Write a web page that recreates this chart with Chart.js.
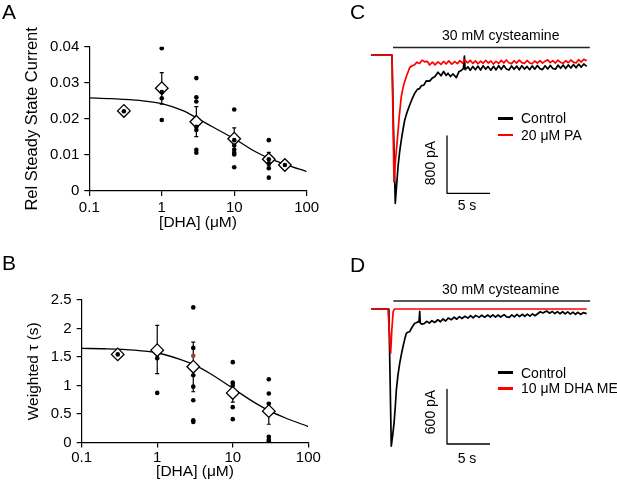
<!DOCTYPE html>
<html>
<head>
<meta charset="utf-8">
<script src="https://cdn.jsdelivr.net/npm/chart.js@4.4.0/dist/chart.umd.min.js"></script>
<style>
  html, body { margin: 0; padding: 0; background: #fff; }
  #fig { position: relative; width: 617px; height: 485px; overflow: hidden;
         font-family: "Liberation Sans", Arial, sans-serif; color: #000; }
  canvas { position: absolute; }
  .t { position: absolute; white-space: nowrap; line-height: 1; }
  .c { transform: translate(-50%, -50%); }
  .r { transform: translate(-50%, -50%) rotate(-90deg); }
  .l { transform: translateY(-50%); }
  .letter { font-size: 21px; }
  .sw { position: absolute; width: 15px; height: 2.6px; }
</style>
</head>
<body>
<div id="fig">
  <canvas id="cA" width="330" height="240" style="left:0;top:0"></canvas>
  <canvas id="cB" width="330" height="245" style="left:0;top:240px"></canvas>
  <canvas id="cC" width="277" height="230" style="left:340px;top:0"></canvas>
  <canvas id="cD" width="277" height="245" style="left:340px;top:240px"></canvas>

  <div class="t letter" style="left:2px;top:0.5px">A</div>
  <div class="t letter" style="left:2px;top:252px">B</div>
  <div class="t letter" style="left:350px;top:0.5px">C</div>
  <div class="t letter" style="left:350px;top:254px">D</div>

  <div class="t c" style="left:500.7px;top:35.3px;font-size:14px">30 mM cysteamine</div>
  <div class="sw" style="left:498px;top:117px;background:#000"></div>
  <div class="t l" style="left:521px;top:118.3px;font-size:14px">Control</div>
  <div class="sw" style="left:498px;top:133.7px;background:#f00"></div>
  <div class="t l" style="left:521px;top:135px;font-size:14px">20 μM PA</div>
  <div class="t r" style="left:430px;top:163.3px;font-size:14px">800 pA</div>
  <div class="t c" style="left:467px;top:205px;font-size:14px">5 s</div>

  <div class="t c" style="left:500.7px;top:289.3px;font-size:14px">30 mM cysteamine</div>
  <div class="sw" style="left:498px;top:371.4px;background:#000"></div>
  <div class="t l" style="left:521px;top:372.7px;font-size:14px">Control</div>
  <div class="sw" style="left:498px;top:387px;background:#f00"></div>
  <div class="t l" style="left:521px;top:388.3px;font-size:14px">10 μM DHA ME</div>
  <div class="t r" style="left:430px;top:411.7px;font-size:14px">600 pA</div>
  <div class="t c" style="left:467px;top:458.3px;font-size:14px">5 s</div>
</div>
<script>
// ---- panel A: steady state current vs [DHA] ----
const decadeTicks = [0.1, 1, 10, 100];
const meanDoseA = [0.3, 1, 3, 10, 30, 50];
const meanA = [0.0222, 0.0285, 0.0192, 0.0145, 0.0088, 0.0072];
const errLoA = [null, 0.0241, 0.0151, 0.0116, 0.0070, null];
const errHiA = [null, 0.0328, 0.0234, 0.0175, 0.0107, null];
const cellDoseA = [0.3, 1, 1, 1, 1, 3, 3, 3, 3, 3, 3, 3, 10, 10, 10, 10, 10, 10, 10, 30, 30, 30, 30, 30, 50];
const cellA = [0.0221, 0.0396, 0.0274, 0.0257, 0.0197, 0.0313, 0.0260, 0.0248, 0.0178, 0.0169, 0.0114, 0.0106,
               0.0226, 0.0141, 0.0126, 0.0114, 0.0106, 0.0101, 0.0066, 0.0141, 0.0088, 0.0077, 0.0063, 0.0037, 0.0072];
const fitDoseA = [0.1, 0.2, 0.5, 1, 2, 3, 5, 10, 20, 30, 50, 100];
const fitA = [0.0258, 0.0256, 0.0251, 0.0242, 0.0222, 0.0203, 0.0178, 0.0145, 0.0108, 0.0091, 0.0074, 0.0054];

// ---- panel B: weighted tau vs [DHA] ----
const meanDoseB = [0.3, 1, 3, 10, 30];
const meanB = [1.546, 1.62, 1.33, 0.87, 0.55];
const errLoB = [null, 1.21, 0.89, 0.71, 0.32];
const errHiB = [null, 2.055, 1.76, 1.04, 0.70];
const cellDoseB = [0.3, 1, 1, 3, 3, 3, 3, 3, 3, 3, 10, 10, 10, 10, 10, 30, 30, 30, 30, 30, 30];
const cellB = [1.546, 1.48, 0.87, 2.37, 1.66, 1.18, 0.98, 0.74, 0.39, 0.36,
               1.41, 1.05, 1.0, 0.62, 0.41, 1.11, 0.86, 0.68, 0.10, 0.05, 0.02];
const oddDoseB = [3];
const oddB = [1.52];
const fitDoseB = [0.1, 0.2, 0.5, 1, 2, 3, 5, 10, 20, 30, 50, 100];
const fitB = [1.65, 1.645, 1.62, 1.57, 1.46, 1.37, 1.21, 0.95, 0.69, 0.56, 0.43, 0.28];

// ---- panel C: traces [time s, current pA] ----
const controlC = [[-2.45,0],[0,0],[0.15,-900],[0.38,-2071],[0.55,-1800],[0.7,-1560],[0.88,-1360],[1.08,-1187],
  [1.28,-1040],[1.48,-908],[1.75,-800],[2.06,-698],[2.35,-610],[2.64,-535],[2.95,-480],[3.2,-470],[3.41,-430],
  [3.7,-420],[4.0,-360],[4.38,-365],[4.7,-320],[5.0,-300],[5.35,-240],[5.7,-290],[6.0,-230],[6.3,-285],[6.51,-255],
  [6.8,-300],[7.1,-265],[7.48,-315],[7.8,-230],[8.06,-215],[8.3,-190],[8.42,-15],[8.5,-205],[8.84,-165],[9.1,-215],
  [9.4,-160],[9.7,-205],[10.0,-155],[10.3,-210],[10.6,-150],[10.9,-198],[11.16,-160],[11.5,-212],[11.8,-158],
  [12.1,-208],[12.4,-150],[12.7,-200],[13.0,-148],[13.3,-195],[13.6,-210],[13.9,-152],[14.2,-200],[14.5,-155],
  [14.8,-206],[15.1,-150],[15.4,-196],[15.7,-160],[16.0,-205],[16.3,-152],[16.6,-198],[16.9,-146],[17.2,-190],
  [17.5,-204],[17.8,-150],[18.1,-195],[18.4,-145],[18.7,-188],[19.0,-198],[19.3,-142],[19.6,-185],[19.9,-140],
  [20.2,-190],[20.5,-138],[20.8,-182],[21.1,-132],[21.4,-178],[21.7,-128],[22.0,-170],[22.3,-125],[22.64,-160]];
const paC = [[-2.45,0],[0,0],[0.23,-1770],[0.4,-1480],[0.62,-1187],[0.85,-850],[1.08,-582],[1.35,-420],[1.66,-303],
  [2.06,-175],[2.35,-150],[2.64,-135],[2.9,-100],[3.2,-118],[3.5,-72],[3.8,-95],[4.1,-88],[4.38,-140],[4.7,-100],
  [5.0,-138],[5.35,-95],[5.7,-130],[6.0,-90],[6.3,-125],[6.6,-82],[6.95,-128],[7.3,-92],[7.6,-120],[7.9,-78],
  [8.2,-112],[8.45,-68],[8.8,-110],[9.1,-75],[9.4,-118],[9.7,-82],[10.0,-122],[10.3,-85],[10.6,-115],[10.9,-76],
  [11.2,-112],[11.5,-84],[11.8,-126],[12.1,-88],[12.4,-118],[12.7,-74],[13.0,-110],[13.3,-70],[13.6,-108],[13.9,-120],
  [14.2,-80],[14.5,-112],[14.8,-72],[15.1,-106],[15.4,-118],[15.7,-76],[16.0,-110],[16.3,-122],[16.6,-84],[16.9,-112],
  [17.2,-78],[17.5,-114],[17.8,-86],[18.1,-68],[18.4,-106],[18.7,-78],[19.0,-112],[19.3,-72],[19.6,-102],[19.9,-118],
  [20.2,-80],[20.5,-108],[20.8,-70],[21.1,-100],[21.4,-112],[21.7,-66],[22.0,-98],[22.3,-60],[22.64,-82]];
const appC = [0.12, 23.0];

// ---- panel D: traces [time s, current pA] ----
const controlD = [[-1.98,0],[0.1,0],[0.38,-1504],[0.55,-1380],[0.7,-1255],[0.85,-1070],[0.97,-889],[1.15,-730],
  [1.36,-596],[1.55,-500],[1.74,-414],[1.95,-330],[2.13,-267],[2.3,-255],[2.52,-249],[2.8,-200],[3.1,-157],[3.3,-150],
  [3.49,-139],[3.6,-145],[3.69,-25],[3.75,-150],[3.87,-165],[4.2,-160],[4.5,-135],[4.8,-155],[5.1,-128],[5.43,-148],
  [5.8,-118],[6.1,-140],[6.4,-108],[6.7,-132],[7.0,-100],[7.36,-118],[7.7,-90],[8.0,-112],[8.3,-84],[8.6,-104],
  [8.95,-80],[9.3,-100],[9.6,-74],[9.9,-96],[10.2,-70],[10.6,-92],[10.9,-68],[11.24,-90],[11.6,-66],[11.9,-88],
  [12.2,-64],[12.5,-90],[12.8,-66],[13.1,-88],[13.5,-62],[13.8,-86],[14.1,-92],[14.4,-64],[14.7,-86],[15.0,-60],
  [15.3,-84],[15.6,-58],[15.9,-80],[16.2,-56],[16.5,-78],[16.8,-54],[17.1,-74],[17.4,-52],[17.7,-30],[18.0,-44],
  [18.45,-22],[18.8,-46],[19.1,-26],[19.4,-50],[19.7,-28],[20.0,-52],[20.3,-30],[20.6,-54],[20.9,-32],[21.2,-56],
  [21.5,-34],[21.8,-58],[22.1,-36],[22.4,-60],[22.7,-40],[23.1,-50]];
const dhaMeD = [[-1.98,0],[0,0],[0.15,-240],[0.31,-486],[0.45,-220],[0.6,-30],[0.75,0],[23.1,0]];
const appD = [0.62, 23.5];

// scale bars: 5 s and 800 / 600 pA
const barSeconds = 5;
const barPA_C = 800;
const barPA_D = 600;

const FONT = "'Liberation Sans', Arial, sans-serif";
Chart.defaults.font.family = FONT;
Chart.defaults.color = '#000';

function pairs(xs, ys) {
  return xs.map((x, i) => ({ x: x, y: ys[i] }));
}
function points(arr) {
  return arr.map(p => ({ x: p[0], y: p[1] }));
}

function errorBarPlugin(xs, lo, hi) {
  return {
    id: 'errorBars',
    beforeDatasetsDraw(chart) {
      const { ctx, scales } = chart;
      ctx.save();
      ctx.strokeStyle = '#000';
      ctx.lineWidth = 1.2;
      xs.forEach((xv, i) => {
        if (lo[i] == null) return;
        const px = scales.x.getPixelForValue(xv);
        const y1 = scales.y.getPixelForValue(lo[i]);
        const y2 = scales.y.getPixelForValue(hi[i]);
        ctx.beginPath();
        ctx.moveTo(px, y1); ctx.lineTo(px, y2);
        ctx.moveTo(px - 2, y1); ctx.lineTo(px + 2, y1);
        ctx.moveTo(px - 2, y2); ctx.lineTo(px + 2, y2);
        ctx.stroke();
      });
      ctx.restore();
    }
  };
}

function doseChart(id, o) {
  const tickFont = { size: 15 };
  const axisLine = { color: '#000', width: 1.2 };
  const ticksOnly = { drawOnChartArea: false, color: '#000', lineWidth: 1.2 };
  const datasets = [
    { data: pairs(o.cellX, o.cellY), showLine: false, pointRadius: 2.3, pointBorderWidth: 0,
      pointBackgroundColor: '#000', pointBorderColor: '#000', order: 0 },
    { data: pairs(o.meanX, o.meanY), showLine: false, pointStyle: 'rectRot', pointRadius: 6.3,
      pointBackgroundColor: '#fff', pointBorderColor: '#000', pointBorderWidth: 1.3, order: 1 },
    { data: pairs(o.fitX, o.fitY), pointRadius: 0, borderColor: '#000', borderWidth: 1.3,
      cubicInterpolationMode: 'monotone', order: 2 }
  ];
  if (o.oddX) {
    datasets.push({ data: pairs(o.oddX, o.oddY), showLine: false, pointRadius: 2.3, pointBorderWidth: 0,
      pointBackgroundColor: '#a33a3a', pointBorderColor: '#a33a3a', order: 0 });
  }
  return new Chart(document.getElementById(id), {
    type: 'line',
    data: { datasets: datasets },
    plugins: [errorBarPlugin(o.meanX, o.errLo, o.errHi)],
    options: {
      responsive: false,
      animation: false,
      events: [],
      layout: { padding: { top: o.padTop, right: o.padRight, left: 0, bottom: 0 } },
      plugins: { legend: { display: false }, tooltip: { enabled: false } },
      scales: {
        x: {
          type: 'logarithmic', min: 0.1, max: 100,
          afterBuildTicks: s => { s.ticks = decadeTicks.map(v => ({ value: v })); },
          ticks: { callback: v => String(v), padding: o.xTickPad, font: tickFont, maxRotation: 0, autoSkip: false },
          grid: Object.assign({ tickLength: 5 }, ticksOnly),
          border: axisLine,
          title: { display: true, text: '[DHA] (μM)', font: { size: 15.5 }, padding: { top: 0, bottom: o.xTitlePad } },
          afterFit: s => { s.height = o.xAxisH; }
        },
        y: {
          min: 0, max: o.yMax,
          ticks: { stepSize: o.yStep, padding: 5, font: tickFont, callback: v => String(+v.toFixed(4)) },
          grid: Object.assign({ tickLength: 5 }, ticksOnly),
          border: axisLine,
          title: { display: true, text: o.yTitle, font: { size: o.yTitleSize }, padding: { top: o.yTitlePad, bottom: 0 } },
          afterFit: s => { s.width = o.yAxisW; }
        }
      }
    }
  });
}

doseChart('cA', {
  cellX: cellDoseA, cellY: cellA, meanX: meanDoseA, meanY: meanA, errLo: errLoA, errHi: errHiA,
  fitX: fitDoseA, fitY: fitA, yMax: 0.04, yStep: 0.01, yTitle: 'Rel Steady State Current', yTitleSize: 16.5,
  padTop: 46.7, padRight: 23.3, yAxisW: 89.3, xAxisH: 49, xTickPad: 3, xTitlePad: 7.5, yTitlePad: 23
});

doseChart('cB', {
  cellX: cellDoseB, cellY: cellB, meanX: meanDoseB, meanY: meanB, errLo: errLoB, errHi: errHiB,
  fitX: fitDoseB, fitY: fitB, oddX: oddDoseB, oddY: oddB, yMax: 2.5, yStep: 0.5, yTitle: 'Weighted τ (s)', yTitleSize: 15.5,
  padTop: 60, padRight: 21.7, yAxisW: 81.7, xAxisH: 42.5, xTickPad: 1.5, xTitlePad: 3.5, yTitlePad: 24
});

function traceChart(id, o) {
  const cv = document.getElementById(id);
  const pxPerS = 43 / barSeconds;
  const pxPerPA = o.barPx / o.barPA;
  const tMin = -o.zeroX / pxPerS;
  const tMax = (cv.width - o.zeroX) / pxPerS;
  const iMax = o.zeroY / pxPerPA;
  const iMin = -(cv.height - o.zeroY) / pxPerPA;
  const sbTop = -(o.sbTopY - o.zeroY) / pxPerPA;
  const sbT = (o.sbX - o.zeroX) / pxPerS;
  const barY = (o.zeroY - o.appY) / pxPerPA;
  return new Chart(cv, {
    type: 'line',
    data: {
      datasets: [
        { data: points(o.control), borderColor: '#000', borderWidth: 1.7, order: 3 },
        { data: points(o.drug), borderColor: '#f00', borderWidth: 1.7, order: 2 },
        { data: [{ x: o.app[0], y: barY }, { x: o.app[1], y: barY }], borderColor: '#222', borderWidth: 1.3, order: 1 },
        { data: [{ x: sbT, y: sbTop }, { x: sbT, y: sbTop - o.barPA }, { x: sbT + barSeconds, y: sbTop - o.barPA }],
          borderColor: '#000', borderWidth: 1.3, order: 0 }
      ]
    },
    options: {
      responsive: false,
      animation: false,
      events: [],
      layout: { padding: 0 },
      elements: { point: { radius: 0 }, line: { tension: 0, borderJoinStyle: 'round' } },
      plugins: { legend: { display: false }, tooltip: { enabled: false } },
      scales: {
        x: { type: 'linear', display: false, min: tMin, max: tMax },
        y: { type: 'linear', display: false, min: iMin, max: iMax }
      }
    }
  });
}

traceChart('cC', {
  control: controlC, drug: paC, app: appC, barPA: barPA_C, barPx: 57.3,
  zeroX: 52, zeroY: 55, appY: 47.5, sbX: 107, sbTopY: 136
});

traceChart('cD', {
  control: controlD, drug: dhaMeD, app: appD, barPA: barPA_D, barPx: 54.7,
  zeroX: 48, zeroY: 69, appY: 61, sbX: 107, sbTopY: 149.3
});
</script>
</body>
</html>
